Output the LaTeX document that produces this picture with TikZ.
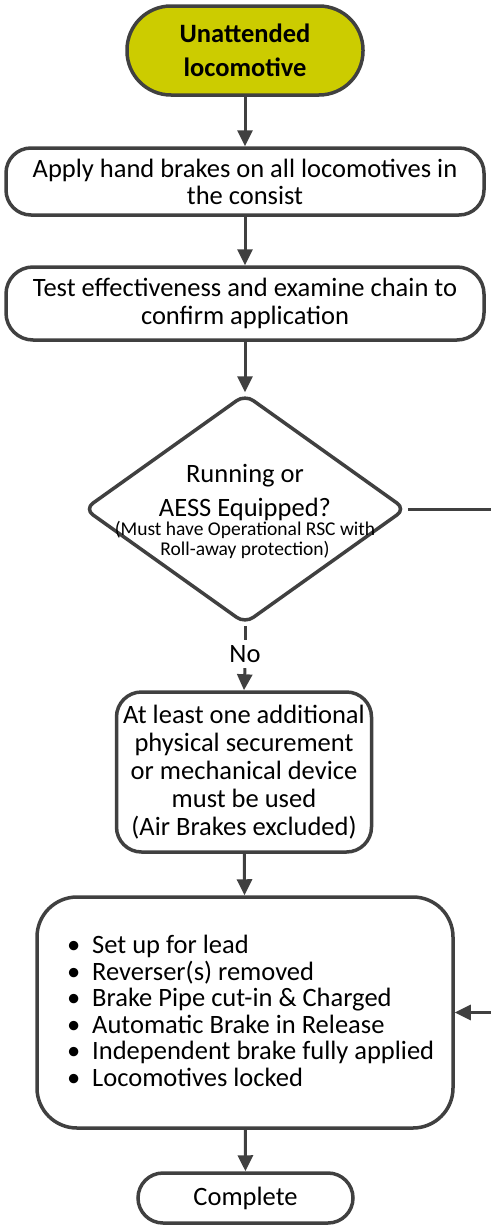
\documentclass[tikz,border=0pt]{standalone}
\usepackage{fontspec}
\setmainfont{Carlito}
\usetikzlibrary{shapes.geometric,arrows.meta}
\definecolor{edge}{HTML}{404040}
\definecolor{startfill}{RGB}{204,204,0}
\begin{document}
\begin{tikzpicture}[x=1pt,y=-1pt,
  box/.style={draw=edge,line width=3.5pt,fill=white,align=center,inner sep=0pt,
    font=\fontsize{26.5}{27}\selectfont},
  conn/.style={draw=edge,line width=3pt,-{Triangle[length=16pt,width=15pt]}},
  plain/.style={draw=edge,line width=3pt}]
\useasboundingbox (0,0) rectangle (490,1226);
\node[box,fill=startfill,rounded corners=44pt,minimum width=236pt,minimum height=89pt,
  font=\fontsize{26.5}{34}\selectfont\bfseries] (start) at (245,50.5) {Unattended\\locomotive};
\node[box,rounded corners=25pt,minimum width=478pt,minimum height=67pt] (b2) at (245,181.5)
  {Apply hand brakes on all locomotives in\\the consist};
\node[box,rounded corners=27pt,minimum width=478pt,minimum height=73pt,
  font=\fontsize{26.5}{28}\selectfont] (b3) at (245,303.5)
  {Test effectiveness and examine chain to\\confirm application};
\node[draw=edge,line width=3.5pt,fill=white,shape=diamond,rounded corners=10pt,
  minimum width=322pt,minimum height=230pt,inner sep=0pt] (dec) at (245,509) {};
\node[align=center,inner sep=0pt,font=\fontsize{26.5}{34}\selectfont] (dect) at (245,493)
  {Running or\\AESS Equipped?};
\node[align=center,inner sep=0pt,font=\fontsize{19.5}{19.5}\selectfont] (decs) at (245,540)
  {(Must have Operational RSC with\\Roll-away protection)};
\node[inner sep=0pt,minimum height=28pt,font=\fontsize{26.5}{27}\selectfont] (no) at (245,654) {No};
\node[box,rounded corners=25pt,minimum width=255pt,minimum height=160pt,
  font=\fontsize{26.5}{28}\selectfont] (b4) at (244,772)
  {At least one additional\\physical securement\\or mechanical device\\must be used\\(Air Brakes excluded)};
\node[box,rounded corners=40pt,minimum width=416pt,minimum height=231pt] (b5) at (245,1012.5) {};
\node[anchor=west,align=left,inner sep=0pt,font=\fontsize{26.5}{26.5}\selectfont] (b5t) at (67,1011)
  {\makebox[25pt][l]{\textbullet}Set up for lead\\
   \makebox[25pt][l]{\textbullet}Reverser(s) removed\\
   \makebox[25pt][l]{\textbullet}Brake Pipe cut-in \& Charged\\
   \makebox[25pt][l]{\textbullet}Automatic Brake in Release\\
   \makebox[25pt][l]{\textbullet}Independent brake fully applied\\
   \makebox[25pt][l]{\textbullet}Locomotives locked};
\node[box,rounded corners=25pt,minimum width=215pt,minimum height=50pt] (end) at (245.5,1198) {Complete};
\coordinate (rc) at (500,509);
\draw[conn] (start) -- (b2);
\draw[conn] (b2) -- (b3);
\draw[conn] (b3) -- (dec.north);
\draw[plain] (dec.south) -- (no.north);
\draw[conn] (no.south) -- (b4.north);
\draw[conn] (b4) -- (b5);
\draw[conn] (b5) -- (end);
\draw[conn] (dec.east) -- (rc) |- (b5.east);
\end{tikzpicture}
\end{document}
